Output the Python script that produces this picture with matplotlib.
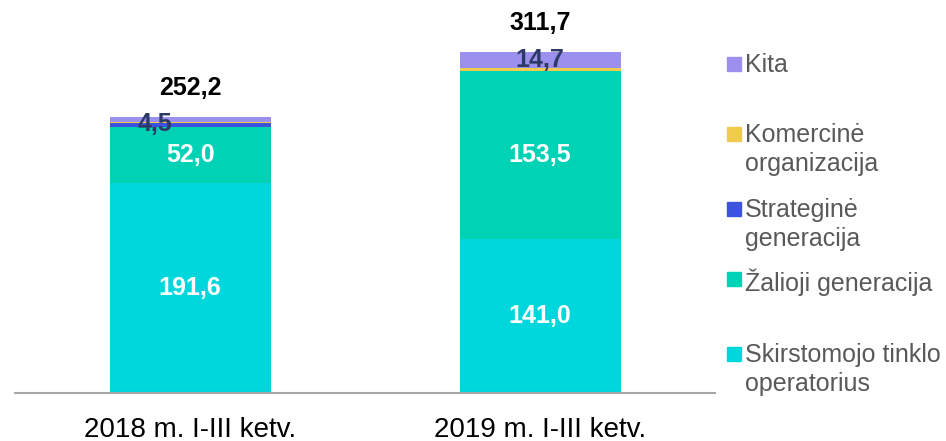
import matplotlib
matplotlib.use("Agg")
import matplotlib.pyplot as plt
from matplotlib.patches import Rectangle
import numpy as np

categories = ["2018 m. I-III ketv.", "2019 m. I-III ketv."]
skirstomojo = [191.6, 141.0]
zalioji = [52.0, 153.5]
strategine = [3.6, 0.0]
komercine = [0.5, 2.5]
kita = [4.5, 14.7]
totals = [252.2, 311.7]

series = [
    ("Skirstomojo tinklo\noperatorius", skirstomojo, "#00D7DC"),
    ("Žalioji generacija", zalioji, "#00D2B6"),
    ("Strateginė\ngeneracija", strategine, "#3D53DE"),
    ("Komercinė\norganizacija", komercine, "#EFCB4E"),
    ("Kita", kita, "#9B90EE"),
]

plt.rcParams['font.family'] = ['Liberation Sans', 'DejaVu Sans']
fig = plt.figure(figsize=(9.46, 4.41), dpi=100)
ax = fig.add_axes([0.016, 0.109, 0.74, 0.868])

x = np.arange(len(categories))
width = 0.46
bottom = np.zeros(len(categories))
for label, vals, color in series:
    ax.bar(x, vals, width, bottom=bottom, color=color, label=label)
    bottom = bottom + np.array(vals)

def fmt(v):
    return f"{v:.1f}".replace(".", ",")

LBL = 18
for i in range(len(categories)):
    ax.text(x[i], skirstomojo[i] / 2, fmt(skirstomojo[i]), ha="center", va="center",
            color="white", fontsize=LBL, fontweight="bold")
    ax.text(x[i], skirstomojo[i] + zalioji[i] / 2, fmt(zalioji[i]), ha="center", va="center",
            color="white", fontsize=LBL, fontweight="bold")
    ax.text(x[i], totals[i] + 27, fmt(totals[i]), ha="center", va="center",
            color="black", fontsize=LBL, fontweight="bold")

# Kita labels
base0 = skirstomojo[0] + zalioji[0] + strategine[0] + komercine[0]
ax.text(x[0] - 0.10, base0 + kita[0] / 2 - 4, fmt(kita[0]), ha="center", va="center",
        color="#2E3A66", fontsize=LBL, fontweight="bold")
base1 = skirstomojo[1] + zalioji[1] + strategine[1] + komercine[1]
ax.text(x[1], base1 + kita[1] / 2, fmt(kita[1]), ha="center", va="center",
        color="#2E3A66", fontsize=LBL, fontweight="bold")

ax.set_xlim(-0.5, 1.5)
ax.set_ylim(0, 350)
ax.set_xticks(x)
ax.set_xticklabels(categories, fontsize=20)
ax.tick_params(axis="x", length=0, pad=17)
ax.set_yticks([])
for s in ["top", "right", "left"]:
    ax.spines[s].set_visible(False)
ax.spines["bottom"].set_color("#A6A6A6")
ax.spines["bottom"].set_linewidth(1.5)

# Legend (manual placement)
H = 441.0
W = 946.0
legend_items = [
    ("Kita", "#9B90EE", 64),
    ("Komercinė\norganizacija", "#EFCB4E", 134),
    ("Strateginė\ngeneracija", "#3D53DE", 209),
    ("Žalioji generacija", "#00D2B6", 279),
    ("Skirstomojo tinklo\noperatorius", "#00D7DC", 354),
]
for text, color, ypx in legend_items:
    sq = 14
    fig.patches.append(Rectangle((727 / W, (H - ypx - sq / 2) / H), sq / W, sq / H,
                                 transform=fig.transFigure, color=color))
    fig.text(745 / W, (H - ypx + 11) / H, text, ha="left", va="top", fontsize=18,
             color="#595959", linespacing=1.27)

fig.savefig("out.png", dpi=100)
